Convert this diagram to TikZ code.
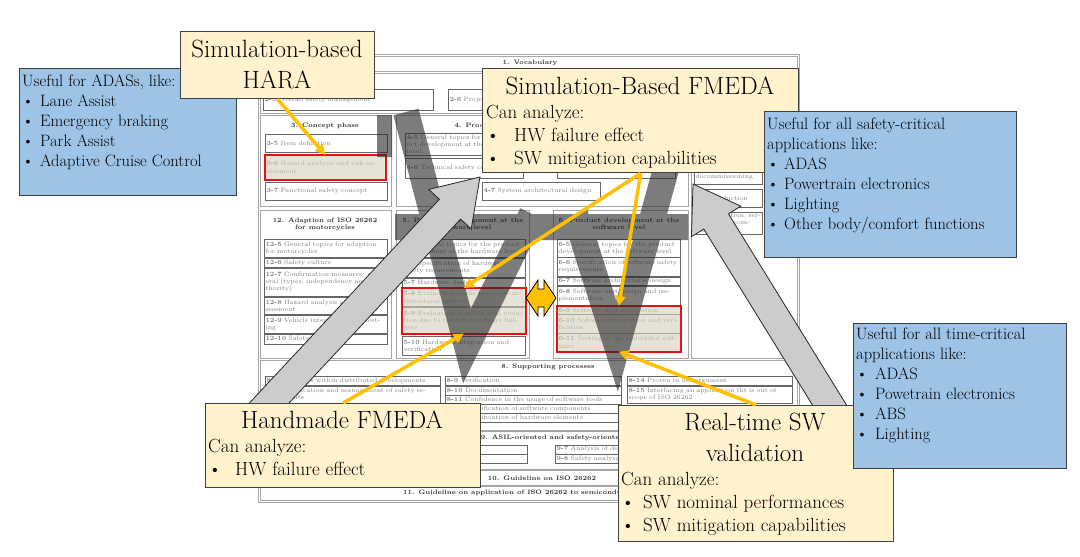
\documentclass[tikz,border=0pt]{standalone}
\usetikzlibrary{arrows.meta}

\definecolor{noteyellow}{RGB}{255,242,204}
\definecolor{noteblue}{RGB}{157,195,230}
\definecolor{flowarrow}{RGB}{255,192,0}
\definecolor{markred}{RGB}{226,20,20}
\definecolor{marktan}{RGB}{214,208,190}

\newcommand\isofont{\fontsize{6.4}{7.1}\selectfont}
\newcommand\itm[2]{\makebox[#1][l]{\textbullet}#2}
% name, x1, y1, x2, y2, text
\newcommand\isobox[6]{%
  \pgfmathsetmacro\isow{#4-#2}\pgfmathsetmacro\isoh{#5-#3}\pgfmathsetmacro\isotw{#4-#2-2.5}%
  \node[isobox, minimum width=\isow pt, minimum height=\isoh pt, text width=\isotw pt] (#1) at (#2,#3) {#6};}
% tip, angle, length
\newcommand\phasearrow[3]{%
  \begin{scope}[shift={#1}, rotate=#2]
    \filldraw[phase] (0,0) -- (-44,29) -- (-44,14.5) -- (-#3,14.5) -- (-#3,-14.5) -- (-44,-14.5) -- (-44,-29) -- cycle;
  \end{scope}}

\begin{document}
\begin{tikzpicture}[x=1pt, y=-1pt,
    panel/.style={draw=black!35, line width=0.7pt, fill=white},
    isotitle/.style={font=\isofont\bfseries, text=black!80, align=center, inner sep=0pt},
    isobox/.style={draw=black!60, line width=0.6pt, fill=white, anchor=north west, inner sep=1pt, align=left, font=\isofont, text=black!50},
    redmark/.style={draw=markred, line width=2pt, fill=marktan, fill opacity=0.6},
    flow/.style={draw=flowarrow, line width=3.5pt, -{Triangle[length=10pt, width=10pt]}},
    phase/.style={fill=black!20, draw=black!85, line width=0.8pt},
    notebox/.style={draw=black!75, line width=1.3pt, fill=noteyellow, anchor=north west, inner sep=0pt},
    usebox/.style={notebox, fill=noteblue},
    notetitle/.style={font=\fontsize{25}{31}\selectfont, align=center, inner sep=0pt, anchor=base},
    notebody/.style={font=\fontsize{19}{23}\selectfont, align=left, inner sep=0pt, anchor=base west},
    usetext/.style={font=\fontsize{16.5}{20}\selectfont, align=left, inner sep=0pt, anchor=base west}]
  \useasboundingbox (0,0) rectangle (1080,557);
  \fill[white] (0,0) rectangle (1080,557);

  % ISO 26262 overview chart
  \draw[panel] (258,54) rectangle (799,502);
  \draw[panel] (260,56) rectangle (797,71);
  \node[isotitle] (t1) at (530,63) {1. Vocabulary};
  \draw[panel] (260,73) rectangle (797,113);
  \node[isotitle] (t2) at (565,82) {2. Management of functional safety};
  \isobox{b25}{263}{89}{433}{110}{\textbf{2-5} Overall safety management}
  \isobox{b26}{448}{89}{610}{110}{\textbf{2-6} Project dependent safety management}
  \isobox{b27}{622}{89}{790}{110}{}

  \draw[panel] (260,115) rectangle (391,206);
  \node[isotitle] (t3) at (325,126) {3. Concept phase};
  \isobox{b35}{265}{134}{387}{152}{\textbf{3-5} Item definition}
  \isobox{b36}{265}{155}{385}{179}{\textbf{3-6} Hazard analysis and risk assessment}
  \isobox{b37}{265}{182}{387}{200}{\textbf{3-7} Functional safety concept}

  \draw[panel] (396,115) rectangle (688,206);
  \node[isotitle] (t4) at (540,126) {4. Product development at the system level};
  \isobox{b45}{405}{133}{523}{155}{\textbf{4-5} General topics for the product development at the system level}
  \isobox{b46}{405}{158}{523}{178}{\textbf{4-6} Technical safety concept}
  \isobox{b47}{482}{182}{600}{200}{\textbf{4-7} System architectural design}
  \isobox{b48}{557}{133}{675}{155}{}
  \isobox{b49}{557}{160}{675}{178}{}

  \draw[panel] (691,115) rectangle (797,358);
  \isobox{b75}{694}{148}{762}{184}{\textbf{7-5} Planning for production, operation, service and decommissioning}
  \isobox{b76}{694}{189}{762}{207}{\textbf{7-6} Production}
  \isobox{b77}{694}{212}{762}{233}{\textbf{7-7} Operation, service and decommissioning}

  \draw[panel] (260,210) rectangle (391,358);
  \node[isotitle] (t12) at (325,224) {12. Adaption of ISO 26262\\for motorcycles};
  \isobox{b125}{264}{239}{387}{257}{\textbf{12-5} General topics for adaption for motorcycles}
  \isobox{b126}{264}{258}{387}{267}{\textbf{12-6} Safety culture}
  \isobox{b127}{264}{268}{387}{296}{\textbf{12-7} Confirmation measures: general (types, independency and authority)}
  \isobox{b128}{264}{297}{387}{314}{\textbf{12-8} Hazard analysis and risk assessment}
  \isobox{b129}{264}{315}{387}{333}{\textbf{12-9} Vehicle integration and testing}
  \isobox{b1210}{264}{334}{387}{344}{\textbf{12-10} Safety validation}

  \draw[panel] (396,210) rectangle (529,358);
  \node[isotitle] (t5) at (463,224) {5. Product development at the\\hardware level};
  \isobox{b55}{402}{239}{525}{257}{\textbf{5-5} General topics for the product development at the hardware level}
  \isobox{b56}{402}{258}{525}{277}{\textbf{5-6} Specification of hardware safety requirements}
  \isobox{b57}{402}{278}{525}{287}{\textbf{5-7} Hardware design}
  \isobox{b58}{402}{288}{525}{306}{\textbf{5-8} Evaluation of the hardware architectural metrics}
  \isobox{b59}{402}{307}{525}{333}{\textbf{5-9} Evaluation of safety goal violation due to random hardware failures}
  \isobox{b510}{402}{336}{525}{355}{\textbf{5-10} Hardware integration and verification}

  \draw[panel] (553,210) rectangle (688,358);
  \node[isotitle] (t6) at (619,224) {6. Product development at the\\software level};
  \isobox{b65}{557}{239}{680}{257}{\textbf{6-5} General topics for the product development at the software level}
  \isobox{b66}{557}{257}{680}{276}{\textbf{6-6} Specification of software safety requirements}
  \isobox{b67}{557}{277}{680}{285}{\textbf{6-7} Software architectural design}
  \isobox{b68}{557}{286}{680}{305}{\textbf{6-8} Software unit design and implementation}
  \isobox{b69}{557}{306}{680}{314}{\textbf{6-9} Software unit verification}
  \isobox{b610}{557}{314}{680}{333}{\textbf{6-10} Software integration and verification}
  \isobox{b611}{557}{333}{680}{351}{\textbf{6-11} Testing of the embedded software}

  \draw[panel] (260,360) rectangle (797,430);
  \node[isotitle] (t8) at (548,367) {8. Supporting processes};
  \isobox{b85}{265}{376}{440}{385}{\textbf{8-5} Interfaces within distributed developments}
  \isobox{b86}{265}{386}{440}{403}{\textbf{8-6} Specification and management of safety requirements}
  \isobox{b87}{265}{405}{440}{414}{}
  \isobox{b88}{265}{415}{440}{424}{}
  \isobox{b89}{445}{376}{621}{385}{\textbf{8-9} Verification}
  \isobox{b810}{445}{386}{621}{395}{\textbf{8-10} Documentation}
  \isobox{b811}{445}{395}{621}{404}{\textbf{8-11} Confidence in the usage of software tools}
  \isobox{b812}{445}{404}{621}{413}{\textbf{8-12} Qualification of software components}
  \isobox{b813}{445}{413}{621}{422}{\textbf{8-13} Qualification of hardware elements}
  \isobox{b814}{627}{376}{792}{385}{\textbf{8-14} Proven in use argument}
  \isobox{b815}{627}{386}{792}{403}{\textbf{8-15} Interfacing an application tht is out of scope of ISO 26262}

  \draw[panel] (260,431) rectangle (797,469);
  \node[isotitle] (t9) at (570,438) {9. ASIL-oriented and safety-oriented analyses};
  \isobox{b95}{330}{445}{527}{454}{}
  \isobox{b96}{330}{454}{527}{463}{}
  \isobox{b97}{555}{445}{660}{454}{\textbf{9-7} Analysis of dependent failures}
  \isobox{b98}{555}{454}{660}{463}{\textbf{9-8} Safety analyses}
  \draw[panel] (260,470) rectangle (797,485);
  \node[isotitle] (t10) at (542,478) {10. Guideline on ISO 26262};
  \draw[panel] (260,486) rectangle (797,500);
  \node[isotitle] (t11) at (522,493) {11. Guideline on application of ISO 26262 to semiconductors};

  % analysed work products
  \draw[redmark] (b36.north west) rectangle (b36.south east);
  \draw[redmark] (b58.north west) rectangle (b59.south east);
  \draw[redmark] (b69.north west) rectangle (b611.south east);

  % V-model overlay
  \begin{scope}[transparency group, opacity=0.6]
    \fill[black!85] (395,214) rectangle (688,240);
    \fill[black!85] (377,115) rectangle (392,157);
    \draw[black!85, line width=26pt] (406,112) -- (467,346) -- (532,214);
    \draw[black!85, line width=26pt] (575,214) -- (617,346) -- (678,126);
  \end{scope}

  % phase arrows
  \phasearrow{(480,177)}{47}{359}
  \phasearrow{(693,184)}{121.7}{301}

  % callouts
  \node[usebox, minimum width=217pt, minimum height=127pt] (adas) at (19,68) {};
  \node[usetext] (adastext) at (22,166) {Useful for ADASs, like:\\\itm{18pt}{Lane Assist}\\\itm{18pt}{Emergency braking}\\\itm{18pt}{Park Assist}\\\itm{18pt}{Adaptive Cruise Control}};

  \node[notebox, minimum width=194pt, minimum height=67pt] (hara) at (180,31) {};
  \node[notetitle] (haratitle) at (277,88) {Simulation-based\\HARA};

  \node[notebox, minimum width=316pt, minimum height=104pt] (fmeda) at (482,68) {};
  \node[notetitle] (fmedatitle) at (640,94) {Simulation-Based FMEDA};
  \node[notebody] (fmedatext) at (486,164) {Can analyze:\\\itm{28pt}{HW failure effect}\\\itm{28pt}{SW mitigation capabilities}};

  \node[usebox, minimum width=252pt, minimum height=146pt] (safety) at (764,111) {};
  \node[usetext] (safetytext) at (767,229) {Useful for all safety-critical\\applications like:\\\itm{17pt}{ADAS}\\\itm{17pt}{Powertrain electronics}\\\itm{17pt}{Lighting}\\\itm{17pt}{Other body/comfort functions}};

  \node[notebox, minimum width=275pt, minimum height=84pt] (handmade) at (205,403) {};
  \node[notetitle] (handmadetitle) at (342,428) {Handmade FMEDA};
  \node[notebody] (handmadetext) at (208,475) {Can analyze:\\\itm{27pt}{HW failure effect}};

  \node[notebox, minimum width=275pt, minimum height=136pt] (realtime) at (618,405) {};
  \node[notetitle] (realtimetitle) at (755,461) {Real-time SW\\validation};
  \node[notebody] (realtimetext) at (621,531) {Can analyze:\\\itm{22pt}{SW nominal performances}\\\itm{22pt}{SW mitigation capabilities}};

  \node[usebox, minimum width=213pt, minimum height=145pt] (timing) at (853,323) {};
  \node[usetext] (timingtext) at (856,439) {Useful for all time-critical\\applications like:\\\itm{19pt}{ADAS}\\\itm{19pt}{Powetrain electronics}\\\itm{19pt}{ABS}\\\itm{19pt}{Lighting}};

  % links to the chart
  \draw[flow] (hara.south) -- (b36.north);
  \draw[flow] (fmeda.south) -- (b58.north);
  \draw[flow] (fmeda.south) -- (b69.north);
  \draw[flow] (handmade.north) -- (b59.south);
  \draw[flow] (realtime.north) -- (b611.south);
  \coordinate (hwsw) at (541,298);
  \filldraw[fill=flowarrow, draw=black, line width=0.8pt, shift={(hwsw)}]
    (-15,0) -- (-3,-18) -- (-3,-9) -- (3,-9) -- (3,-18) -- (15,0) -- (3,18) -- (3,9) -- (-3,9) -- (-3,18) -- cycle;
\end{tikzpicture}
\end{document}
